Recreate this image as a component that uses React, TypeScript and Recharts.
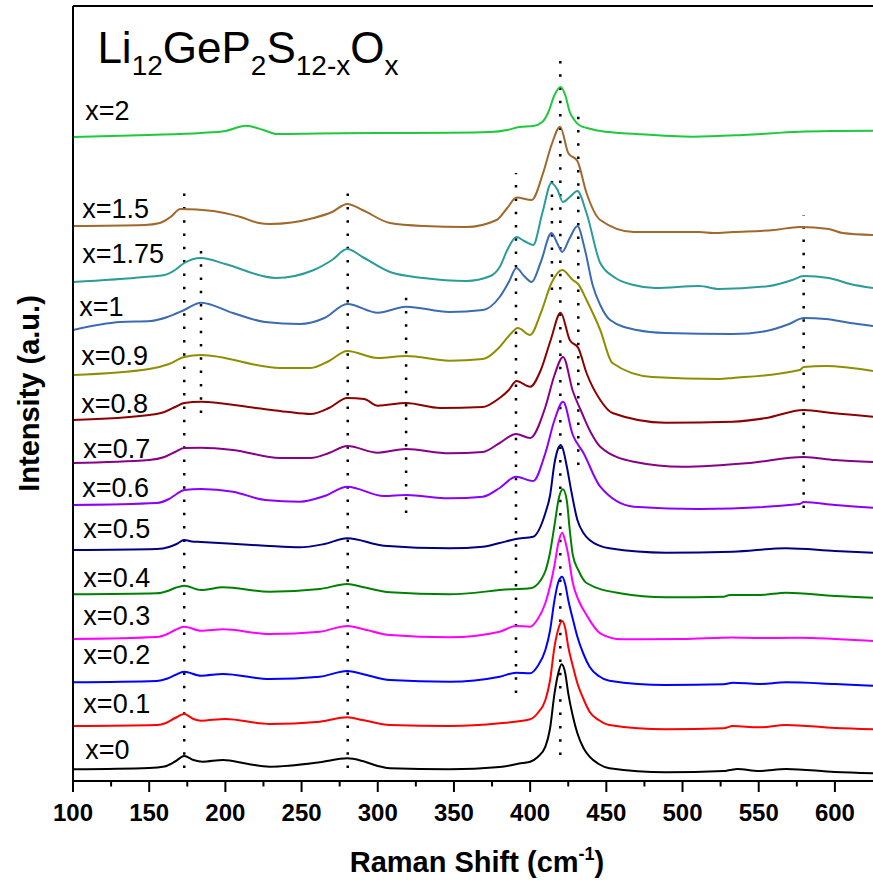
import React from "react";
import { LineChart, Line, XAxis, YAxis, ReferenceLine, ReferenceDot } from "recharts";

// Raman shift (cm-1) vs. stacked intensity (a.u.), one list per composition
const sx0 = [[100, 11.7], [150, 13], [160, 14.5], [167, 19.5], [173, 25], [179, 21], [185, 19.3], [198.5, 21], [215, 17], [229, 14.3], [262, 18.7], [280, 22.7], [290, 20], [300, 15], [308, 12.7], [347, 11.7], [380, 14], [395, 18], [400, 19.3], [405, 24], [410, 34.3], [413, 52], [416, 87.7], [418.5, 108], [420.6, 116.7], [423, 108], [425, 87.7], [428, 65], [431, 47.7], [435, 33], [439, 24.3], [445, 17], [452, 12.7], [489, 8.7], [527, 10], [531, 11], [536, 12], [550, 10], [568, 12], [600, 9], [625, 7.7]];
const sx01 = [[100, 55], [155, 56], [161, 58], [167, 63], [173, 67], [179, 62], [184, 60.3], [200, 62], [229, 57], [262, 59.3], [280, 63.7], [290, 61], [308, 56], [347, 55], [380, 57.7], [400, 61.7], [405, 68], [410, 81], [413, 100], [416, 134.3], [418.5, 152], [421, 160], [423, 153], [425, 134.3], [428, 115], [431, 97.7], [435, 82], [439, 69.3], [445, 61], [452, 56], [489, 51.7], [527, 52.7], [533, 55], [550, 53.7], [568, 56], [600, 53], [625, 51.7]];
const sx02 = [[100, 98.7], [155, 100], [162, 102.5], [167, 106], [173, 109.3], [184, 105.3], [198.5, 107], [229, 102], [262, 104.3], [280, 110], [290, 107], [308, 101], [347, 99.3], [380, 104.3], [390.7, 108.3], [400, 107.7], [405, 115], [410, 131], [413, 150], [416, 181], [418.5, 199], [421, 204.3], [423, 197], [425, 181], [428, 162], [431, 144.3], [435, 127], [439, 114.3], [445, 105], [452, 100.3], [489, 96], [527, 96.7], [533, 98.3], [550, 97], [568, 98.7], [600, 97], [625, 95.3]];
const sx03 = [[100, 142], [155, 144], [162, 147], [167, 151], [173, 154.3], [184, 150.3], [198.5, 151.7], [229, 147], [262, 149.3], [280, 155], [290, 152], [308, 146], [347, 143.7], [380, 149.3], [390.7, 155], [400, 154.3], [405, 162], [410, 178], [416, 216], [418.5, 238], [421, 248.3], [423, 240], [425, 226], [428, 198], [432, 180], [437, 166], [446, 147.7], [460, 141.7], [500, 142], [533, 143.5], [550, 143], [577, 143.3], [600, 142], [625, 140]];
const sx04 = [[100, 186.7], [155, 187.7], [162, 190], [167, 193], [173, 195.3], [184, 191], [198.5, 193.7], [229, 189.3], [262, 192], [280, 197], [290, 194], [308, 188.7], [347, 186.7], [387, 191.7], [400, 192.7], [407, 201], [410, 210], [413, 228], [416, 256], [419, 284], [421.5, 291.7], [424, 281], [426, 251], [428, 226], [431.6, 211], [437, 198], [459, 187.7], [489, 183.7], [527, 184.3], [531, 186], [551, 186], [568, 188.3], [600, 185], [625, 183.3]];
const sx05 = [[100, 231], [155, 232], [163, 234], [168, 237], [173, 241], [178, 239.5], [184, 239], [226, 235.3], [249, 233.7], [265, 237], [280, 242.7], [304, 235.3], [347, 232.7], [369, 234.3], [380, 238], [390.7, 242], [402, 244.3], [410, 268], [413, 285], [416, 318], [418.5, 333], [420, 336], [421.5, 332], [424, 315], [427, 290], [431, 261], [435, 248], [439, 241], [452, 232.7], [489, 228.3], [533, 229.3], [568, 232.7], [600, 230], [625, 228.3]];
const sx06 = [[100, 276], [155, 278], [163, 282], [168, 287], [173, 291], [184, 292], [205, 289.3], [226, 281], [249, 279.3], [265, 285], [280, 294.3], [304, 285], [318.6, 286], [347, 282.7], [369, 284.3], [380, 293], [390.7, 304.3], [402, 300], [410, 328], [416, 361], [421.6, 379.3], [428, 346], [435, 328], [446, 294.3], [468, 274.3], [511, 272], [577, 277], [579.5, 279], [600, 276], [625, 273.3]];
const sx07 = [[100, 318], [150, 321], [160, 324], [167, 329], [173, 333], [184, 333.3], [205, 331], [236, 323], [256, 323], [268, 328], [280, 335], [300, 328.3], [318.6, 332], [347, 327.7], [369, 329], [380, 338], [390.7, 347], [400, 343], [410, 374], [416, 406], [421.6, 424], [428, 390], [434, 368], [440, 348], [446, 334.3], [468, 319.3], [500, 314.3], [544, 318], [579.5, 324], [600, 321], [625, 319]];
const sx08 = [[100, 361], [150, 366], [160, 369], [167, 374], [173, 378], [184, 379.3], [220, 373], [240, 369.3], [256, 367], [268, 373], [280, 383], [291, 382], [300, 375.3], [318.6, 378], [341, 373], [369, 374], [380, 383], [386, 391], [391, 400], [400, 394.3], [407, 411], [413.5, 441], [420, 468.3], [426, 441], [431.6, 433], [437, 408], [446, 381], [454, 368], [489, 358.3], [533, 359.3], [555, 363], [579.5, 371], [598, 368], [625, 364.3]];
const sx09 = [[100, 406], [150, 412], [163, 417], [173, 424], [184, 426], [236, 413], [256, 413], [268, 420], [280, 430], [300, 423], [318.6, 425], [347, 420.3], [369, 422], [380, 434], [386, 445], [392, 453], [400, 446], [407, 468], [414, 498], [421, 511], [428, 501], [431.5, 497], [437, 481], [446, 451], [454, 418], [480, 404], [524, 402], [533, 403], [577, 411], [579.5, 414], [594, 415], [625, 410]];
const sx1 = [[100, 451], [131, 459], [151, 460], [162, 464], [173, 471], [184, 478.3], [205, 468], [226, 459], [249, 457], [265, 463], [280, 477], [300, 468.3], [318.6, 474.3], [347, 469], [369, 471], [380, 484], [386, 499], [391, 513], [396, 505], [401, 499], [407, 519], [414, 548], [418, 537], [421, 529], [426, 543], [431, 555], [436, 531], [441, 496], [446, 476], [452.5, 461], [470, 451], [489, 448], [533, 447], [555, 450], [570, 457], [579.5, 463], [594, 462], [610, 458], [625, 455]];
const sx175 = [[100, 499], [147, 504], [160, 506], [167, 511], [173, 518], [184, 523], [200, 517], [233, 503], [258, 511], [270, 521], [280, 532], [290, 524], [308, 509], [330, 503], [358, 500], [374, 505], [380, 514], [385, 531], [391, 544], [396, 540], [402, 536], [408, 568], [414, 598], [418, 591], [421.5, 579], [426, 584], [431, 590], [437, 568], [446, 518], [456, 503], [468, 496], [482, 493], [511, 495], [524, 492], [557, 495], [572, 501], [579.5, 505], [596, 503], [610, 497], [625, 493]];
const sx15 = [[100, 555], [147, 556], [157, 558], [164, 564], [170.5, 572], [192, 570], [210, 564], [222, 558], [229, 557], [258, 563], [270, 569], [280, 577], [290, 571], [308, 558], [330, 555], [358, 554], [378, 561], [385, 573], [391, 583.5], [401, 581], [408.5, 608], [414, 636], [419.7, 654.3], [425, 628], [431, 620], [437, 588], [446, 561], [468, 549], [511, 549], [520, 548], [533, 549], [560, 551], [577, 554], [596, 552], [605, 548], [625, 546]];
const sx2 = [[100, 644], [150, 646], [184, 648], [200, 650], [213.5, 655.3], [225, 651], [234, 647], [260, 647.5], [300, 648], [347, 648.3], [374, 649], [385, 651], [393, 654], [402, 655], [408, 659], [412, 669], [416, 686], [420, 694], [423, 686], [426, 669], [429, 661], [432, 656], [440, 652], [446, 650], [470, 647], [507, 644.3], [540, 646], [577, 649.3], [600, 650], [625, 650.3]];

const seriesNames = ["x=0", "x=0.1", "x=0.2", "x=0.3", "x=0.4", "x=0.5", "x=0.6", "x=0.7", "x=0.8", "x=0.9", "x=1", "x=1.75", "x=1.5", "x=2"];
const seriesValues = [sx0, sx01, sx02, sx03, sx04, sx05, sx06, sx07, sx08, sx09, sx1, sx175, sx15, sx2];
const seriesColors = ["#000000", "#FF0000", "#0000FF", "#FF00FF", "#008000", "#000080", "#8A00FF", "#870087", "#8B0000", "#8E8E00", "#3B6BB2", "#2A9C99", "#A0682A", "#1FC83C"];

// label anchors (shift, intensity)
const labelX = [108, 106.8, 106.8, 106.8, 106.8, 106.8, 106.1, 106.8, 105.4, 105.4, 104.1, 106.1, 106.1, 108.1];
const labelY = [22, 68.3, 117, 156, 194, 243, 284, 323, 368, 416, 465, 518, 563, 661];

// dotted guide lines: shift, from, to
const guideX = [173, 184, 280.3, 318.6, 390.7, 414.3, 419.8, 431.6, 579.5];
const guideFrom = [13, 368, 13, 268, 88, 491, 26, 316, 273];
const guideTo = [591, 534, 596, 485, 608, 606, 723, 673, 566];

const xTicks = [100, 125, 150, 175, 200, 225, 250, 275, 300, 325, 350, 375, 400, 425, 450, 475, 500, 525, 550, 575, 600];

const FONT = "'Liberation Sans', Arial, sans-serif";

const series = seriesNames.map((name, i) => ({
  name,
  color: seriesColors[i],
  data: seriesValues[i].map(([x, y]) => ({ x, y })),
}));

function XTick({ x, y, payload }: any) {
  const major = payload.value % 50 === 0;
  return (
    <g>
      <line x1={x} x2={x} y1={y} y2={y + (major ? 11 : 5.5)} stroke="#000" strokeWidth={2} />
      {major && (
        <text x={x} y={y + 39.5} textAnchor="middle" fontFamily={FONT} fontWeight="bold" fontSize={24} fill="#000">
          {payload.value}
        </text>
      )}
    </g>
  );
}

export default function App() {
  return (
    <div style={{ position: "absolute", left: 0, top: 0, background: "#fff" }}>
      <LineChart width={873} height={880} margin={{ top: 6, right: 0, bottom: 0, left: 1 }}>
        <XAxis
          dataKey="x"
          type="number"
          domain={[100, 625]}
          allowDataOverflow
          ticks={xTicks}
          tick={<XTick />}
          tickLine={false}
          tickSize={0}
          tickMargin={0}
          height={99}
          axisLine={{ stroke: "#000", strokeWidth: 2 }}
          label={{
            content: ({ viewBox }: any) => (
              <text x={viewBox.x + 404} y={viewBox.y + 91} textAnchor="middle" fontFamily={FONT} fontWeight="bold" fontSize={29} fill="#000">
                Raman Shift (cm
                <tspan dy={-12} fontSize={18}>-1</tspan>
                <tspan dy={12}>)</tspan>
              </text>
            ),
          }}
        />
        <YAxis
          type="number"
          domain={[0, 775]}
          allowDataOverflow
          width={72}
          tick={false}
          tickLine={false}
          axisLine={{ stroke: "#000", strokeWidth: 2 }}
          label={{
            content: ({ viewBox }: any) => {
              const cx = viewBox.x + 38;
              const cy = viewBox.y + viewBox.height / 2;
              return (
                <text x={cx} y={cy} transform={`rotate(-90 ${cx} ${cy})`} textAnchor="middle" fontFamily={FONT} fontWeight="bold" fontSize={29} fill="#000">
                  Intensity (a.u.)
                </text>
              );
            },
          }}
        />
        <ReferenceLine y={775} stroke="#000" strokeWidth={2} ifOverflow="visible" />
        {guideX.map((gx, i) => (
          <ReferenceLine
            key={"g" + i}
            segment={[{ x: gx, y: guideFrom[i] }, { x: gx, y: guideTo[i] }]}
            stroke="#000"
            strokeWidth={2.5}
            strokeDasharray="2.5 10.8"
          />
        ))}
        {series.map((s) => (
          <Line
            key={s.name}
            data={s.data}
            dataKey="y"
            type="monotone"
            stroke={s.color}
            strokeWidth={2}
            dot={false}
            activeDot={false}
            isAnimationActive={false}
          />
        ))}
        {series.map((s, i) => (
          <ReferenceDot
            key={"l" + i}
            x={labelX[i]}
            y={labelY[i]}
            r={0}
            shape={(p: any) => (
              <text x={p.cx} y={p.cy} fontFamily={FONT} fontSize={27} fill="#000">
                {s.name}
              </text>
            )}
          />
        ))}
        <ReferenceDot
          x={116}
          y={718}
          r={0}
          shape={(p: any) => (
            <text x={p.cx} y={p.cy} fontFamily={FONT} fontSize={44} fill="#000">
              Li
              <tspan dy={12} fontSize={28}>12</tspan>
              <tspan dy={-12}>GeP</tspan>
              <tspan dy={12} fontSize={28}>2</tspan>
              <tspan dy={-12}>S</tspan>
              <tspan dy={12} fontSize={28}>12-x</tspan>
              <tspan dy={-12}>O</tspan>
              <tspan dy={12} fontSize={28}>x</tspan>
            </text>
          )}
        />
      </LineChart>
    </div>
  );
}
